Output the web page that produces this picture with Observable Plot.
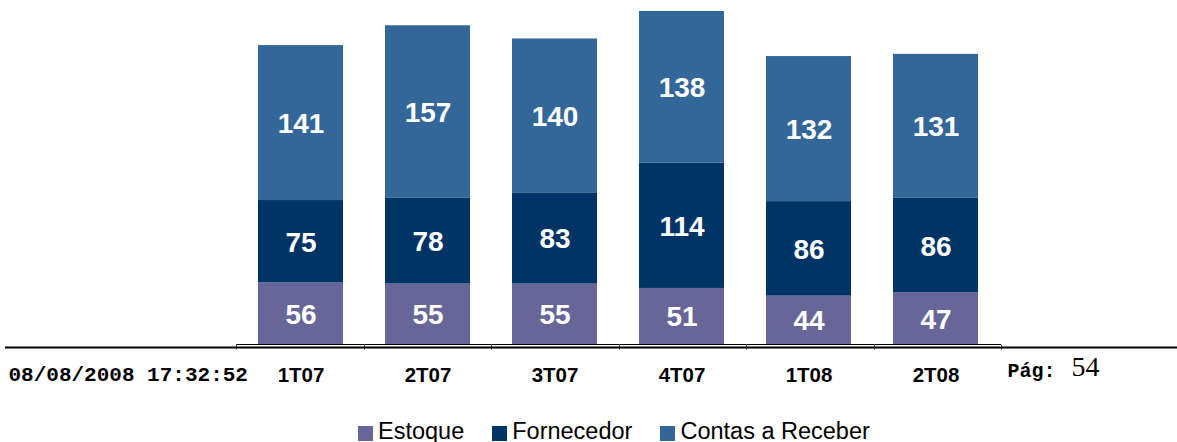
<!DOCTYPE html>
<html><head><meta charset="utf-8">
<script src="https://cdn.jsdelivr.net/npm/d3@7"></script>
<script src="https://cdn.jsdelivr.net/npm/@observablehq/plot@0.6"></script>
<style>
body{margin:0;background:#fff;font-family:"Liberation Sans",Arial,sans-serif;}
#wrap{position:relative;width:1177px;height:442px;overflow:hidden;}
#legend{position:absolute;left:358px;top:418px;display:flex;align-items:center;font-size:23.5px;color:#000;white-space:nowrap;font-family:"Liberation Sans",Arial,sans-serif;}
#legend span.sw{display:inline-block;width:15px;height:15px;margin-right:5px;margin-top:4px;}
#legend span.it{display:flex;align-items:center;margin-right:28px;}
</style></head>
<body><div id="wrap"></div>
<script>
const periods = ["1T07","2T07","3T07","4T07","1T08","2T08"];
const seriesNames = ["Estoque","Fornecedor","Contas a Receber"];
const estoque = [56,55,55,51,44,47];
const fornecedor = [75,78,83,114,86,86];
const contas = [141,157,140,138,132,131];
const colors = ["#666699","#003366","#336699"];
const footerDate = "08/08/2008 17:32:52";
const pageLabel = "Pág:";
const pageNumber = "54";

const seriesValues = [estoque, fornecedor, contas];
const data = [];
periods.forEach((p,i)=>seriesNames.forEach((s,j)=>data.push({period:p, series:s, value:seriesValues[j][i]})));

const SANS = '"Liberation Sans", Arial, sans-serif';
const MONO = '"Liberation Mono", "Courier New", monospace';
const SERIF = '"Liberation Serif", "Times New Roman", serif';
const W=1177, H=412;
const chart = Plot.plot({
  width: W, height: H,
  marginLeft: 236, marginRight: 176, marginTop: 11, marginBottom: 68,
  x: {domain: periods, paddingInner: 0.33, paddingOuter: 0.165, axis: null},
  y: {domain: [0,303], axis: null},
  color: {domain: seriesNames, range: colors},
  style: {fontFamily: SANS, background: "#fff", overflow: "visible"},
  marks: [
    Plot.barY(data, {x:"period", y:"value", fill:"series"}),
    Plot.text(data, Plot.stackY({x:"period", y:"value", text: d=>String(d.value), fill:"white", fontSize:28, fontWeight:"bold", fontFamily: SANS, dy:1})),
    Plot.text(periods, {x: d=>d, frameAnchor:"bottom", dy:37, text: d=>d, fontFamily: SANS, fontWeight:"bold", fontSize:20.5, fill:"#000"}),
    Plot.text([footerDate], {frameAnchor:"bottom-left", dx:-228, dy:36, textAnchor:"start", text:d=>d, fontFamily: MONO, fontWeight:"bold", fontSize:21, fill:"#000"}),
    Plot.text([pageLabel], {frameAnchor:"bottom-right", dx:6, dy:32, textAnchor:"start", text:d=>d, fontFamily: MONO, fontWeight:"bold", fontSize:20, fill:"#000"}),
    Plot.text([pageNumber], {frameAnchor:"bottom-right", dx:70, dy:31, textAnchor:"start", text:d=>d, fontFamily: SERIF, fontSize:28, fill:"#000"})
  ]
});
document.getElementById("wrap").appendChild(chart);

const xs = chart.scale("x");
const ys = chart.scale("y");
const step = (xs.range[1]-xs.range[0]) / (periods.length);
const base = Math.round(ys.apply(0)) + 0.5;
const svg = d3.select(chart);
const g = svg.append("g");
g.append("line").attr("x1", xs.range[0]).attr("x2", xs.range[1]).attr("y1", base).attr("y2", base).attr("stroke","#000").attr("stroke-width",1);
d3.range(periods.length+1).forEach(i=>{
  const x = Math.round(xs.range[0] + i*step) + 0.5;
  g.append("line").attr("x1",x).attr("x2",x).attr("y1",base).attr("y2",base+5).attr("stroke","#555").attr("stroke-width",1);
});
g.append("line").attr("x1",5).attr("x2",W).attr("y1",base+3).attr("y2",base+3).attr("stroke","#000").attr("stroke-width",2);

const lg = d3.select("#wrap").append("div").attr("id","legend");
seriesNames.forEach((s,i)=>{
  const it = lg.append("span").attr("class","it");
  it.append("span").attr("class","sw").style("background", colors[i]);
  it.append("span").text(s);
});
</script></body></html>
